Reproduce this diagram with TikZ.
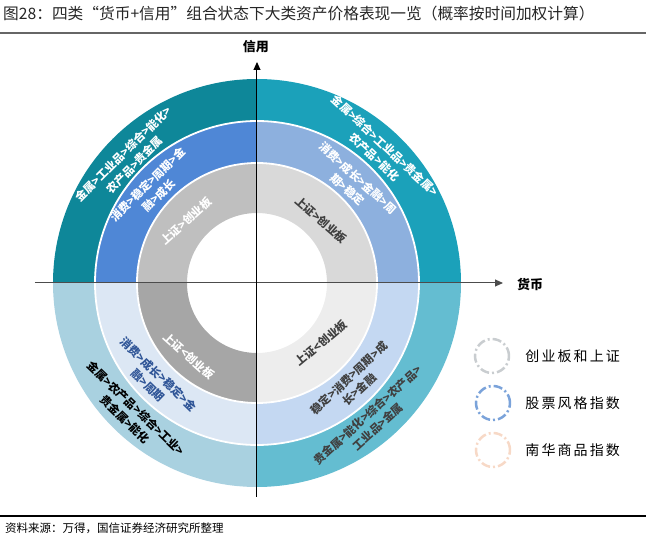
\documentclass[tikz,border=0pt]{standalone}
\usepackage{fontspec}
\setmainfont{Noto Sans CJK SC}
\newfontfamily\legendfont[LetterSpace=15]{Noto Sans CJK SC}
\usepackage{xcolor}
\usetikzlibrary{arrows.meta, positioning}

% quadrant colours (outer / middle / inner ring)
\definecolor{TLouter}{HTML}{0E8799}
\definecolor{TLmid}{HTML}{4F87D6}
\definecolor{TLin}{HTML}{BFBFBF}
\definecolor{TRouter}{HTML}{1BA1BA}
\definecolor{TRmid}{HTML}{8DB0DE}
\definecolor{TRin}{HTML}{D9D9D9}
\definecolor{BLouter}{HTML}{A9D1E0}
\definecolor{BLmid}{HTML}{DCE7F4}
\definecolor{BLin}{HTML}{A6A6A6}
\definecolor{BRouter}{HTML}{64BDD1}
\definecolor{BRmid}{HTML}{C4D8F2}
\definecolor{BRin}{HTML}{EDEDED}
\definecolor{darktext}{HTML}{404040}
\definecolor{bluetext}{HTML}{2F5597}
\definecolor{legGray}{HTML}{C9CDD0}
\definecolor{legBlue}{HTML}{7BA3DA}
\definecolor{legPeach}{HTML}{F7D9C7}

\begin{document}
\begin{tikzpicture}[x=1pt, y=1pt,
    % Define a style for the texts on the rings
    ringtext/.style={font=\fontsize{11.3}{15.5}\selectfont\bfseries, align=center, inner sep=0pt},
    axis/.style={line width=1pt, -{Triangle[length=8pt, width=7pt]}},
    axislabel/.style={font=\fontsize{13}{15}\selectfont\bfseries, inner sep=0pt},
    legendring/.style={circle, line width=2.5pt, minimum size=34pt, inner sep=0pt,
        dash pattern=on 9pt off 3pt on 2pt off 3pt},
    legendtext/.style={font=\legendfont\fontsize{14}{16}\selectfont, inner sep=0pt}
]

    % Fix the page to the size of the reference
    \useasboundingbox (-257,-268) rectangle (389,283);

    % Define the radii of the rings
    \def\rOuter{204}
    \def\rMid{162}
    \def\rIn{120}
    \def\rHole{70}

    % Fill each quadrant ring by ring (start angle / outer / middle / inner colour)
    \foreach \a/\cO/\cM/\cI in {90/TLouter/TLmid/TLin, 0/TRouter/TRmid/TRin,
                               180/BLouter/BLmid/BLin, 270/BRouter/BRmid/BRin} {
        \fill[\cO] (\a:\rMid) -- (\a:\rOuter) arc[start angle=\a, end angle=\a+90, radius=\rOuter]
            -- ({\a+90}:\rMid) arc[start angle=\a+90, end angle=\a, radius=\rMid] -- cycle;
        \fill[\cM] (\a:\rIn) -- (\a:\rMid) arc[start angle=\a, end angle=\a+90, radius=\rMid]
            -- ({\a+90}:\rIn) arc[start angle=\a+90, end angle=\a, radius=\rIn] -- cycle;
        \fill[\cI] (\a:\rHole) -- (\a:\rIn) arc[start angle=\a, end angle=\a+90, radius=\rIn]
            -- ({\a+90}:\rHole) arc[start angle=\a+90, end angle=\a, radius=\rHole] -- cycle;
    }
    % White gaps between the rings
    \foreach \r in {\rMid, \rIn} {
        \draw[white, line width=1.8pt] (0,0) circle[radius=\r];
    }

    % Axes
    \coordinate (xLeft) at (-222,0);
    \coordinate (xRight) at (246,0);
    \coordinate (yBottom) at (0,-214);
    \coordinate (yTop) at (0,221);
    \draw[axis, black!70] (xLeft) -- (xRight);
    \draw[axis, black] (yBottom) -- (yTop);
    \node[axislabel] (credit) at (-1,236) {信用};
    \node[axislabel] (money) at (273,-2) {货币};

    % Texts on the rings, placed with polar coordinates (angle:radius)
    \node[ringtext, white, rotate=45] (tlOuter) at (136:178) {金属>工业品>综合>能化>\\农产品>贵金属};
    \node[ringtext, white, rotate=45] (tlMid) at (138:139) {消费>稳定>周期>金\\融>成长};
    \node[ringtext, white, rotate=42] (tlIn) at (139:94) {上证>创业板};
    \node[ringtext, white, rotate=-43] (trOuter) at (47:180) {金属>综合>工业品>贵金属>\\农产品>能化};
    \node[ringtext, white, rotate=-42] (trMid) at (46:138) {消费>成长>金融>周\\期>稳定};
    \node[ringtext, darktext, rotate=-41] (trIn) at (44.5:90) {上证>创业板};
    \node[ringtext, black, rotate=-44] (blOuter) at (226:182) {金属>农产品>综合>工业>\\贵金属>能化};
    \node[ringtext, bluetext, rotate=-44] (blMid) at (223:142) {消费>成长>稳定>金\\融>周期};
    \node[ringtext, white, rotate=-42] (blIn) at (227:100) {上证<创业板};
    \node[ringtext, darktext, rotate=42] (brOuter) at (-50:180) {贵金属>能化>综合>农产品>\\工业品>金属};
    \node[ringtext, darktext, rotate=43] (brMid) at (-46:140) {稳定>消费>周期>成\\长>金融};
    \node[ringtext, darktext, rotate=40] (brIn) at (-43:88) {上证<创业板};

    % Legend
    \node[legendring, draw=legGray] (legA) at (235,-73) {};
    \node[legendring, draw=legBlue] (legB) at (236,-120) {};
    \node[legendring, draw=legPeach] (legC) at (236,-167) {};
    \node[legendtext, right=15pt of legA] (legAtext) {创业板和上证};
    \node[legendtext, right=14pt of legB] (legBtext) {股票风格指数};
    \node[legendtext, right=14pt of legC] (legCtext) {南华商品指数};

    % Title and source
    \node[anchor=west, inner sep=0pt, font=\fontsize{15.7}{18}\selectfont, black!85] (title) at (-254,269)
        {图28：四类“货币+信用”组合状态下大类资产价格表现一览（概率按时间加权计算）};
    \draw[black!60, line width=2pt] (-257,250) -- (389,250);
    \draw[black, line width=1.2pt] (-257,-233) -- (389,-233);
    \node[anchor=west, inner sep=0pt, font=\fontsize{11.5}{14}\selectfont] (source) at (-252,-245)
        {资料来源：万得，国信证券经济研究所整理};

\end{tikzpicture}
\end{document}
